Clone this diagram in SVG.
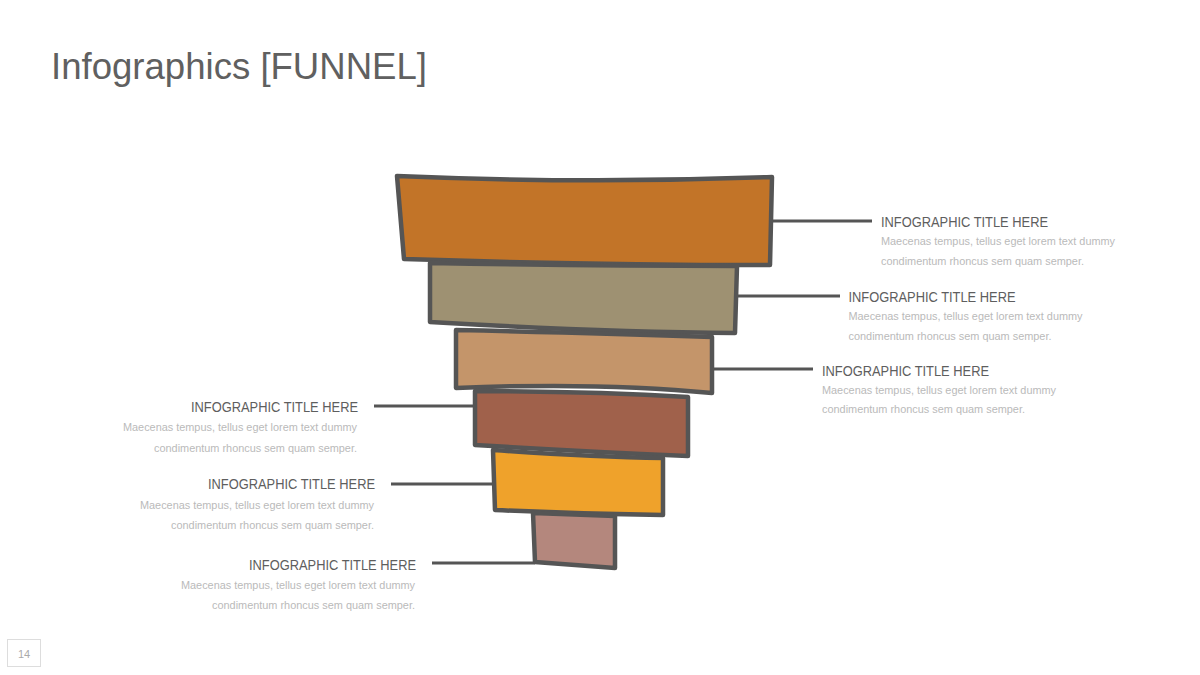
<svg xmlns="http://www.w3.org/2000/svg" width="1200" height="675" viewBox="0 0 1200 675">
<style>
.bar{stroke:#555555;stroke-width:4.5;stroke-linejoin:round;stroke-linecap:round}
.conn{stroke:#555555;stroke-width:3;fill:none}
.t{font-family:"Liberation Sans",Arial,sans-serif;font-size:15.5px;fill:#5e5e5e}
.b{font-family:"Liberation Sans",Arial,sans-serif;font-size:11px;fill:#bababa}
.r{text-anchor:end}
</style>
<rect width="1200" height="675" fill="#ffffff"/>
<text x="51" y="79" font-family="Liberation Sans, Arial, sans-serif" font-size="36" fill="#606060" textLength="376" lengthAdjust="spacingAndGlyphs">Infographics [FUNNEL]</text>

<g id="connectors">
<line class="conn" x1="772" y1="221" x2="872" y2="221"/>
<line class="conn" x1="737" y1="296" x2="840" y2="296"/>
<line class="conn" x1="712" y1="369" x2="813" y2="369"/>
<line class="conn" x1="374" y1="406" x2="475" y2="406"/>
<line class="conn" x1="391" y1="484" x2="494" y2="484"/>
<line class="conn" x1="432" y1="563" x2="535" y2="563"/>
</g>

<g id="funnel">
<g id="bar1"><path class="bar" fill="#C27428" d="M397,176 Q585,184 772,177 L770,265 Q590,265 404,259 Z"/></g>
<g id="bar2"><path class="bar" fill="#9E9172" d="M430,263 Q590,266 737,266 L735,333 Q600,332 430,322 Z"/></g>
<g id="bar3"><path class="bar" fill="#C4956A" d="M456,330 Q600,333 712,337 L712,393 Q600,382 456,388 Z"/></g>
<g id="bar4"><path class="bar" fill="#A0614B" d="M475,391 Q590,391 688,397 L688,456 Q590,452 475,445 Z"/></g>
<g id="bar5"><path class="bar" fill="#EFA22B" d="M493,450 Q590,457 663,458 L663,515 Q580,514 495,510 Z"/></g>
<g id="bar6"><path class="bar" fill="#B4877D" d="M533,513 L615,516 L615,568 Q575,565 535,562 Z"/></g>
</g>

<g id="label-r1">
<text class="t" x="881" y="227" textLength="167" lengthAdjust="spacingAndGlyphs">INFOGRAPHIC TITLE HERE</text>
<text class="b" x="881" y="244.5" textLength="234" lengthAdjust="spacingAndGlyphs">Maecenas tempus, tellus eget lorem text dummy</text>
<text class="b" x="881" y="264.5" textLength="203" lengthAdjust="spacingAndGlyphs">condimentum rhoncus sem quam semper.</text>
</g>
<g id="label-r2">
<text class="t" x="848.5" y="302" textLength="167" lengthAdjust="spacingAndGlyphs">INFOGRAPHIC TITLE HERE</text>
<text class="b" x="848.5" y="320" textLength="234" lengthAdjust="spacingAndGlyphs">Maecenas tempus, tellus eget lorem text dummy</text>
<text class="b" x="848.5" y="340" textLength="203" lengthAdjust="spacingAndGlyphs">condimentum rhoncus sem quam semper.</text>
</g>
<g id="label-r3">
<text class="t" x="822" y="375.5" textLength="167" lengthAdjust="spacingAndGlyphs">INFOGRAPHIC TITLE HERE</text>
<text class="b" x="822" y="393.5" textLength="234" lengthAdjust="spacingAndGlyphs">Maecenas tempus, tellus eget lorem text dummy</text>
<text class="b" x="822" y="413" textLength="203" lengthAdjust="spacingAndGlyphs">condimentum rhoncus sem quam semper.</text>
</g>
<g id="label-l1">
<text class="t r" x="358" y="412" textLength="167" lengthAdjust="spacingAndGlyphs">INFOGRAPHIC TITLE HERE</text>
<text class="b r" x="357" y="431" textLength="234" lengthAdjust="spacingAndGlyphs">Maecenas tempus, tellus eget lorem text dummy</text>
<text class="b r" x="357" y="451.5" textLength="203" lengthAdjust="spacingAndGlyphs">condimentum rhoncus sem quam semper.</text>
</g>
<g id="label-l2">
<text class="t r" x="375" y="489" textLength="167" lengthAdjust="spacingAndGlyphs">INFOGRAPHIC TITLE HERE</text>
<text class="b r" x="374" y="508.5" textLength="234" lengthAdjust="spacingAndGlyphs">Maecenas tempus, tellus eget lorem text dummy</text>
<text class="b r" x="374" y="528.5" textLength="203" lengthAdjust="spacingAndGlyphs">condimentum rhoncus sem quam semper.</text>
</g>
<g id="label-l3">
<text class="t r" x="416" y="569.5" textLength="167" lengthAdjust="spacingAndGlyphs">INFOGRAPHIC TITLE HERE</text>
<text class="b r" x="415" y="588.5" textLength="234" lengthAdjust="spacingAndGlyphs">Maecenas tempus, tellus eget lorem text dummy</text>
<text class="b r" x="415" y="609" textLength="203" lengthAdjust="spacingAndGlyphs">condimentum rhoncus sem quam semper.</text>
</g>

<g id="page-number">
<rect x="7.5" y="639.5" width="33" height="27" fill="none" stroke="#dddddd" stroke-width="1"/>
<text x="24" y="657.5" text-anchor="middle" font-family="Liberation Sans, Arial, sans-serif" font-size="11" fill="#aaaaaa">14</text>
</g>
</svg>
